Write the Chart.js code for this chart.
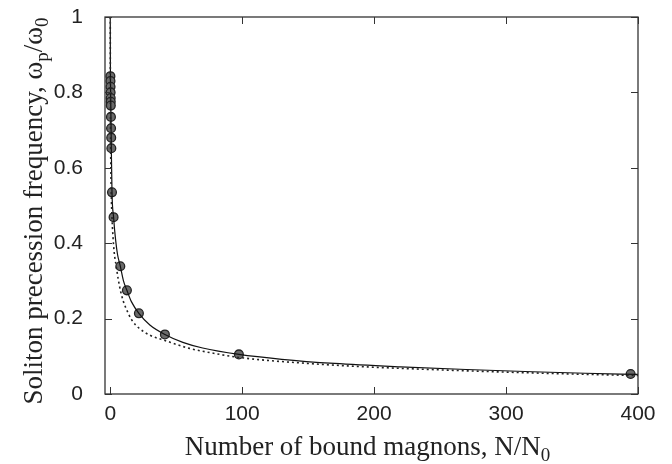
<!DOCTYPE html>
<html>
<head>
<meta charset="utf-8">
<script src="https://cdn.jsdelivr.net/npm/chart.js@4/dist/chart.umd.min.js"></script>
<style>
  html, body { margin: 0; padding: 0; background: #fff; }
  #wrap { width: 672px; height: 464px; }
</style>
</head>
<body>
<div id="wrap"><canvas id="c" width="672" height="464"></canvas></div>
<script>
// measured points (N/N0, wp/w0)
const ptN = [0.1, 0.15, 0.2, 0.25, 0.3, 0.35, 0.4, 0.5, 0.6, 0.7, 0.8, 1.3, 2.5, 7.6, 12.6, 21.7, 41.4, 97.5, 394.4];
const ptW = [0.843, 0.83, 0.815, 0.80, 0.785, 0.775, 0.765, 0.735, 0.705, 0.68, 0.652, 0.535, 0.469, 0.339, 0.275, 0.214, 0.158, 0.105, 0.053];

// solid curve
const solidN = [0, 0.03, 0.1, 0.2, 0.3, 0.5, 0.8, 1.3, 2.5, 4, 5.5, 7.6, 10, 12.6, 16, 21.7, 30, 41.4, 55, 70, 97.5, 130, 170, 220, 270, 320, 360, 400];
const solidW = [1.0, 0.93, 0.845, 0.815, 0.785, 0.735, 0.652, 0.535, 0.469, 0.41, 0.37, 0.339, 0.3, 0.275, 0.245, 0.214, 0.183, 0.158, 0.137, 0.122, 0.105, 0.092, 0.081, 0.072, 0.065, 0.059, 0.055, 0.052];

// dotted curve
const dotN = [0, 0.05, 0.2, 0.5, 0.9, 1.3, 2, 3, 4.5, 6, 8, 10, 12.6, 16, 21.7, 30, 41.4, 60, 80, 97.5, 150, 200, 250, 300, 350, 400];
const dotW = [1.0, 0.85, 0.7, 0.58, 0.51, 0.469, 0.42, 0.375, 0.339, 0.305, 0.27, 0.245, 0.222, 0.198, 0.175, 0.156, 0.142, 0.121, 0.107, 0.097, 0.081, 0.071, 0.064, 0.058, 0.053, 0.049];

const xTicks = [0, 100, 200, 300, 400];
const yTicks = [0, 0.2, 0.4, 0.6, 0.8, 1];

const xTitle = [["Number of bound magnons, N/N"], ["0", 1]];
const yTitle = [["Soliton precession frequency, \u03c9"], ["p", 1], ["/\u03c9"], ["0", 1]];

const zip = (a, b) => a.map((v, i) => ({ x: v, y: b[i] }));

const TITLE_FONT = 27;
function richText(ctx, parts, x, y) {
  const big = `${TITLE_FONT}px "Liberation Serif", "DejaVu Serif", serif`;
  const small = `${Math.round(TITLE_FONT * 0.7)}px "Liberation Serif", "DejaVu Serif", serif`;
  let w = 0;
  for (const [t, sub] of parts) { ctx.font = sub ? small : big; w += ctx.measureText(t).width; }
  let cx = x - w / 2;
  for (const [t, sub] of parts) {
    ctx.font = sub ? small : big;
    ctx.fillText(t, cx, y + (sub ? 6 : 0));
    cx += ctx.measureText(t).width;
  }
}

const frame = {
  id: "frame",
  afterDraw(chart) {
    const { ctx, chartArea: a, scales: { x, y } } = chart;
    ctx.save();
    ctx.strokeStyle = "#333";
    ctx.lineWidth = 1.3;
    ctx.strokeRect(a.left, a.top, a.right - a.left, a.bottom - a.top);
    ctx.lineWidth = 1;
    const L = 7;
    ctx.beginPath();
    for (const v of xTicks) {
      const px = Math.round(x.getPixelForValue(v)) + 0.5;
      ctx.moveTo(px, a.bottom); ctx.lineTo(px, a.bottom - L);
      ctx.moveTo(px, a.top); ctx.lineTo(px, a.top + L);
    }
    for (const v of yTicks) {
      const py = Math.round(y.getPixelForValue(v)) + 0.5;
      ctx.moveTo(a.left, py); ctx.lineTo(a.left + L, py);
      ctx.moveTo(a.right, py); ctx.lineTo(a.right - L, py);
    }
    ctx.stroke();

    ctx.fillStyle = "#222";
    ctx.textBaseline = "alphabetic";
    ctx.textAlign = "left";
    richText(ctx, xTitle, (a.left + a.right) / 2 - 4, 455);
    ctx.translate(42, 211);
    ctx.rotate(-Math.PI / 2);
    richText(ctx, yTitle, 0, 0);
    ctx.restore();
  },
};

const tickFont = { family: "Liberation Sans", size: 21 };

new Chart(document.getElementById("c"), {
  type: "scatter",
  data: {
    datasets: [
      {
        label: "dotted",
        data: zip(dotN, dotW),
        showLine: true,
        borderColor: "#222",
        borderWidth: 1.6,
        borderDash: [2, 3],
        pointRadius: 0,
        cubicInterpolationMode: "monotone",
      },
      {
        label: "solid",
        data: zip(solidN, solidW),
        showLine: true,
        borderColor: "#111",
        borderWidth: 1.2,
        pointRadius: 0,
        cubicInterpolationMode: "monotone",
      },
      {
        label: "points",
        data: zip(ptN, ptW),
        pointStyle: "circle",
        pointRadius: 4.4,
        borderWidth: 1.3,
        borderColor: "#222",
        backgroundColor: "#6a6a6a",
      },
      {
        label: "bars",
        data: zip(ptN, ptW),
        pointStyle: "line",
        pointRadius: 3.2,
        borderWidth: 1.2,
        borderColor: "#ddd",
      },
    ],
  },
  options: {
    responsive: false,
    animation: false,
    layout: { padding: { left: 0, right: 34, top: 17, bottom: 0 } },
    plugins: { legend: { display: false }, tooltip: { enabled: false } },
    scales: {
      x: {
        type: "linear",
        min: -4,
        max: 400,
        afterBuildTicks: (s) => { s.ticks = xTicks.map((v) => ({ value: v })); },
        afterFit: (s) => { s.height = 70; s.paddingLeft = 0; s.paddingRight = 0; },
        grid: { display: false, drawTicks: false },
        border: { display: false },
        ticks: { color: "#222", padding: 8, font: tickFont },
      },
      y: {
        type: "linear",
        min: 0,
        max: 1,
        afterBuildTicks: (s) => { s.ticks = yTicks.map((v) => ({ value: v })); },
        afterFit: (s) => { s.width = 105; s.paddingTop = 0; s.paddingBottom = 0; },
        grid: { display: false, drawTicks: false },
        border: { display: false },
        ticks: { color: "#222", padding: 22, font: tickFont, callback: (v) => String(v) },
      },
    },
  },
  plugins: [frame],
});
</script>
</body>
</html>
